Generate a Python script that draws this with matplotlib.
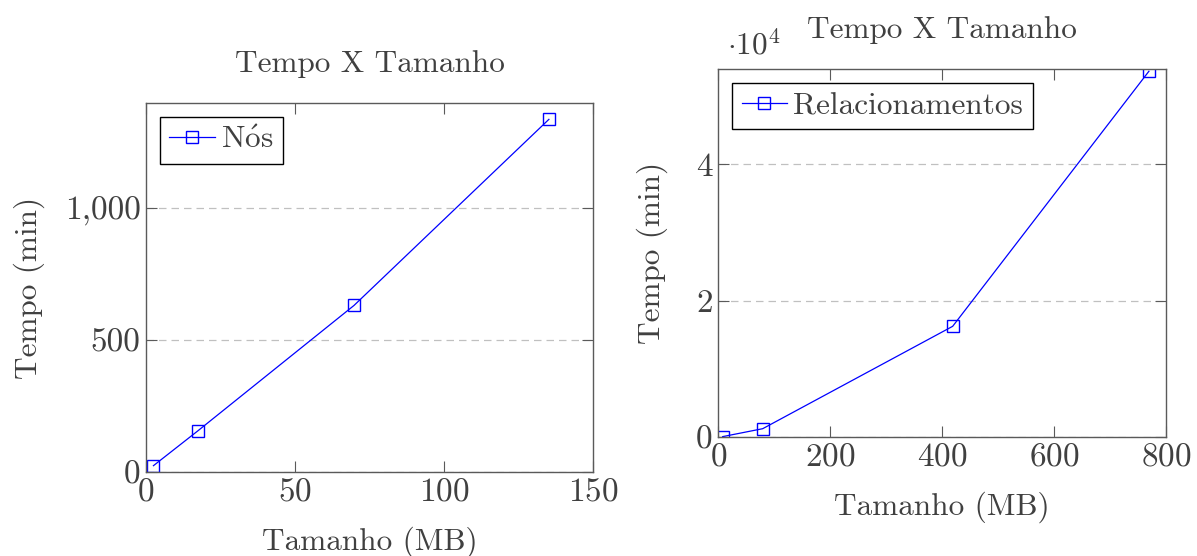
import numpy as np
import matplotlib
matplotlib.use('Agg')
import matplotlib.pyplot as plt
from matplotlib.ticker import FuncFormatter

plt.rcParams['font.family'] = ['cmr10', 'DejaVu Serif']
plt.rcParams['mathtext.fontset'] = 'cm'
plt.rcParams['axes.formatter.use_mathtext'] = True

# dados
tam_nos = [2.5, 17.3, 69.8, 135.2]
tempo_nos = [24, 155, 631, 1336]

tam_rel = [7.8, 79.3, 418.8, 769.5]
tempo_rel = [100, 1260, 16260, 53630]

txt = '#404040'
spine = '#5a5a5a'
fs = 22.5
fs_tick = 24

fig = plt.figure(figsize=(11.97, 5.56), dpi=100)
W, H = 1197, 556

def setup(ax, xticks, yticks):
    for s in ax.spines.values():
        s.set_color(spine)
        s.set_linewidth(1.0)
    ax.tick_params(direction='in', length=8, width=0.8, color=spine, labelcolor=txt,
                   labelsize=fs_tick, top=True, right=True, pad=4)
    ax.set_xticks(xticks)
    ax.set_yticks(yticks)
    ax.grid(axis='y', linestyle=(0, (6, 4)), color='#c0c0c0', linewidth=0.9)
    ax.set_axisbelow(True)

def leg(ax):
    ax.legend(loc='upper left', fontsize=fs, fancybox=False, edgecolor='black',
              framealpha=1, handlelength=1.45, handletextpad=0.2, borderpad=0.3,
              borderaxespad=0.45, labelcolor=txt)

ax1 = fig.add_axes([146/W, (H-472)/H, (593-146)/W, (472-103)/H])
ax1.plot(tam_nos, tempo_nos, color='#0000ff', lw=0.9, marker='s', ms=9,
         mfc='none', mec='#0000ff', mew=1.0, label=r'N$\acute{\mathrm{o}}$s')
ax1.set_xlim(0, 150)
ax1.set_ylim(0, 1398)
setup(ax1, [0, 50, 100, 150], [0, 500, 1000])
ax1.yaxis.set_major_formatter(FuncFormatter(lambda v, p: f'{int(v):,}'))
ax1.set_title('Tempo X Tamanho', fontsize=fs, color=txt, pad=22)
ax1.set_xlabel('Tamanho (MB)', fontsize=fs, color=txt, labelpad=14)
ax1.set_ylabel('Tempo (min)', fontsize=fs, color=txt, labelpad=14)
leg(ax1)

ax2 = fig.add_axes([718.3/W, (H-437.3)/H, (1166-718.3)/W, (437.3-68.7)/H])
ax2.plot(tam_rel, tempo_rel, color='#0000ff', lw=0.9, marker='s', ms=9,
         mfc='none', mec='#0000ff', mew=1.0, label='Relacionamentos')
ax2.set_xlim(0, 800)
ax2.set_ylim(0, 54000)
setup(ax2, [0, 200, 400, 600, 800], [0, 20000, 40000])
ax2.yaxis.set_major_formatter(FuncFormatter(lambda v, p: f'{v/1e4:g}'))
ax2.text(0.02, 1.02, r'$\cdot 10^4$', transform=ax2.transAxes, fontsize=fs,
         color=txt, ha='left', va='bottom')
ax2.set_title('Tempo X Tamanho', fontsize=fs, color=txt, pad=22)
ax2.set_xlabel('Tamanho (MB)', fontsize=fs, color=txt, labelpad=14)
ax2.set_ylabel('Tempo (min)', fontsize=fs, color=txt, labelpad=20)
leg(ax2)

fig.savefig('out.png', dpi=100)
